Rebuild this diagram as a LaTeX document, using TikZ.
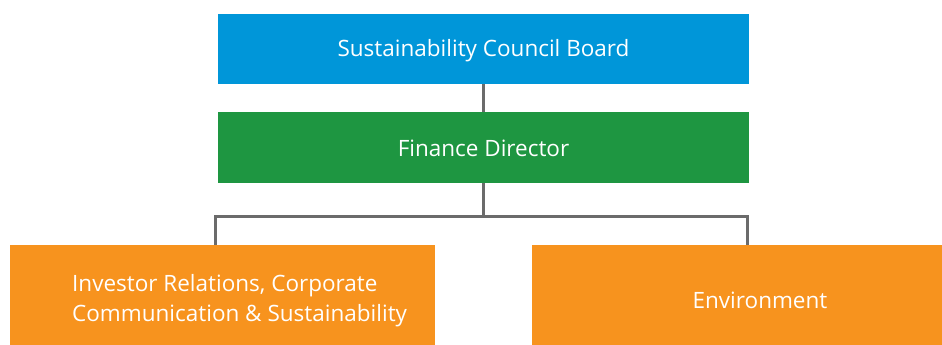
\documentclass[tikz,border=0pt]{standalone}
\usepackage{fontspec}
\setmainfont{Open Sans}
\definecolor{cblue}{HTML}{0096D9}
\definecolor{cgreen}{HTML}{1E9641}
\definecolor{corange}{HTML}{F7931E}
\definecolor{cline}{HTML}{6B6B6B}
\begin{document}
\begin{tikzpicture}[x=1pt,y=-1pt,
  box/.style={draw=none,inner sep=0pt,text=white,font=\fontsize{22.5}{30}\selectfont,align=left},
  conn/.style={draw=cline,line width=2.6pt}]
\useasboundingbox (0,0) rectangle (942,345);
\fill[cblue] (218,14) rectangle (749,84);
\node[box,anchor=base] (board) at (483.5,57) {Sustainability Council Board};
\fill[cgreen] (218,112) rectangle (749,182.5);
\node[box,anchor=base] (fin) at (483.5,156) {Finance Director};
\fill[corange] (10,245) rectangle (435,345);
\node[box,anchor=base west] (ir) at (72,321.5) {Investor Relations, Corporate\\Communication \& Sustainability};
\fill[corange] (532,245) rectangle (942,345);
\node[box,anchor=base] (env) at (760,308) {Environment};
\coordinate (bb) at (483.5,84);
\coordinate (ft) at (483.5,112);
\coordinate (fb) at (483.5,182.5);
\coordinate (lt) at (215.5,245);
\coordinate (rt) at (747.5,245);
\draw[conn] (bb) -- (ft);
\draw[conn] (fb) -- (483.5,216.5) -| (lt);
\draw[conn] (483.5,216.5) -| (rt);
\end{tikzpicture}
\end{document}
